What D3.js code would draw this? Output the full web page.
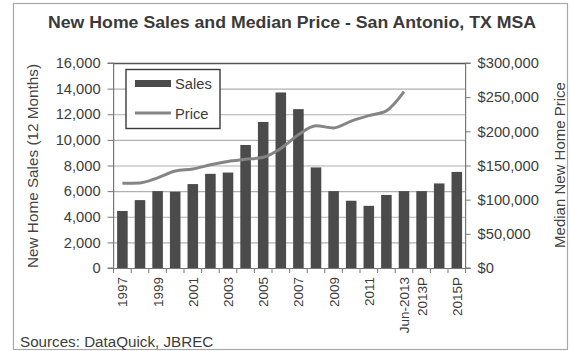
<!DOCTYPE html>
<html>
<head>
<meta charset="utf-8">
<script src="https://cdn.jsdelivr.net/npm/d3@7"></script>
<style>
  html, body { margin: 0; padding: 0; background: #fff; }
  svg { display: block; font-family: "Liberation Sans", Arial, sans-serif; }
</style>
</head>
<body>
<svg id="chart" width="571" height="351"></svg>
<script>
const categories = ["1997","1998","1999","2000","2001","2002","2003","2004","2005","2006",
  "2007","2008","2009","2010","2011","2012","Jun-2013","2013P","2014P","2015P"];
const tickLabels = ["1997","1999","2001","2003","2005","2007","2009","2011","Jun-2013","2013P","2015P"];
const sales = [4450,5300,6000,5950,6550,7350,7450,9600,11400,13700,
  12400,7850,6000,5250,4850,5700,6000,6000,6600,7500];
const priceCategories = ["1997","1998","1999","2000","2001","2002","2003","2004","2005","2006",
  "2007","2008","2009","2010","2011","2012","Jun-2013"];
const price = [124000,124500,132000,142000,145000,151000,156000,159000,162000,175000,
  195000,208000,205000,215000,223000,230000,258000];
const salesTicks = [0,2000,4000,6000,8000,10000,12000,14000,16000];
const priceTicks = [0,50000,100000,150000,200000,250000,300000];

const svg = d3.select("#chart");
const pLeft = 113.6, pRight = 465.6, pTop = 63, pBottom = 268;

// outer frame
svg.append("rect").attr("x", 13.5).attr("y", 3.5).attr("width", 554).attr("height", 346)
  .attr("fill", "none").attr("stroke", "#a8a8a8").attr("stroke-width", 1.2);

svg.append("text").attr("x", 292).attr("y", 28).attr("text-anchor", "middle")
  .attr("font-weight", "bold").attr("font-size", 17.2).attr("fill", "#3a3a3a")
  .attr("textLength", 488).attr("lengthAdjust", "spacingAndGlyphs")
  .text("New Home Sales and Median Price - San Antonio, TX MSA");

const x = d3.scaleBand().domain(categories).range([pLeft, pRight]).paddingInner(0.4).paddingOuter(0.2);
const y = d3.scaleLinear().domain([0, 16000]).range([pBottom, pTop]);
const y2 = d3.scaleLinear().domain([0, 300000]).range([pBottom, pTop]);

// gridlines
svg.append("g").selectAll("line").data(salesTicks.filter(d => d > 0)).join("line")
  .attr("x1", pLeft).attr("x2", pRight)
  .attr("y1", d => y(d) + 0.5).attr("y2", d => y(d) + 0.5)
  .attr("stroke", d => d === 16000 ? "#555" : "#b0b0b0").attr("stroke-width", d => d === 16000 ? 1.3 : 1.2);

// bars
svg.append("g").selectAll("rect").data(sales).join("rect")
  .attr("x", (d, i) => x(categories[i])).attr("width", x.bandwidth())
  .attr("y", d => y(d)).attr("height", d => pBottom - y(d))
  .attr("fill", "#4b4b4b");

// price line
const line = d3.line().x((d, i) => x(priceCategories[i]) + x.bandwidth() / 2).y(d => y2(d)).curve(d3.curveMonotoneX);
svg.append("path").datum(price).attr("d", line).attr("fill", "none")
  .attr("stroke", "#858585").attr("stroke-width", 3).attr("stroke-linejoin", "round");

// axes
const axisColor = "#777";
const yAxis = d3.axisLeft(y).tickValues(salesTicks).tickSize(6).tickPadding(7).tickFormat(d3.format(","));
const gy = svg.append("g").attr("transform", `translate(${pLeft},0)`).call(yAxis);
const y2Axis = d3.axisRight(y2).tickValues(priceTicks).tickSize(5).tickPadding(7).tickFormat(d => "$" + d3.format(",")(d));
const gy2 = svg.append("g").attr("transform", `translate(${pRight},0)`).call(y2Axis);
const xAxis = d3.axisBottom(x).tickValues([]).tickSizeOuter(0);
const gx = svg.append("g").attr("transform", `translate(0,${pBottom})`).call(xAxis);

[gy, gy2, gx].forEach(g => {
  g.select(".domain").attr("stroke", axisColor).attr("stroke-width", 1.2);
  g.selectAll(".tick line").attr("stroke", axisColor);
  g.selectAll("text").attr("font-size", 14.7).attr("fill", "#3c3c3c")
    .attr("font-family", "Liberation Sans, Arial, sans-serif");
});
gy.select(".domain").attr("d", `M-6,${pTop}H0V${pBottom}H-6`);
gy2.select(".domain").attr("d", `M5,${pTop}H0V${pBottom}H5`);

// category ticks at band boundaries
const step = x.step();
const boundaries = d3.range(categories.length + 1).map(k => pLeft + k * step);
svg.append("g").selectAll("line").data(boundaries).join("line")
  .attr("x1", d => d).attr("x2", d => d).attr("y1", pBottom).attr("y2", pBottom + 5)
  .attr("stroke", axisColor);

// category labels
svg.append("g").selectAll("text").data(tickLabels).join("text")
  .attr("transform", d => `translate(${x(d) + x.bandwidth() / 2 + 5},${pBottom + 9}) rotate(-90)`)
  .attr("text-anchor", "end").attr("font-size", 13.5).attr("fill", "#3c3c3c")
  .text(d => d);

// axis titles
svg.append("text").attr("transform", "translate(38,166) rotate(-90)").attr("text-anchor", "middle")
  .attr("font-size", 15.3).attr("fill", "#444").text("New Home Sales (12 Months)");
svg.append("text").attr("transform", "translate(565,165) rotate(-90)").attr("text-anchor", "middle")
  .attr("font-size", 15).attr("fill", "#444").text("Median New Home Price");

// legend
const lg = svg.append("g");
lg.append("rect").attr("x", 126).attr("y", 69.5).attr("width", 94).attr("height", 59)
  .attr("fill", "#fff").attr("stroke", "#3a3a3a").attr("stroke-width", 1.4);
lg.append("rect").attr("x", 135).attr("y", 80).attr("width", 36).attr("height", 7).attr("fill", "#4b4b4b");
lg.append("text").attr("x", 175).attr("y", 88.5).attr("font-size", 14.7).attr("fill", "#3c3c3c").text("Sales");
lg.append("line").attr("x1", 135).attr("x2", 171).attr("y1", 113).attr("y2", 113)
  .attr("stroke", "#858585").attr("stroke-width", 3);
lg.append("text").attr("x", 175).attr("y", 118.5).attr("font-size", 14.7).attr("fill", "#3c3c3c").text("Price");

svg.append("text").attr("x", 20).attr("y", 347).attr("font-size", 15.2).attr("fill", "#3c3c3c")
  .text("Sources: DataQuick, JBREC");
</script>
</body>
</html>
